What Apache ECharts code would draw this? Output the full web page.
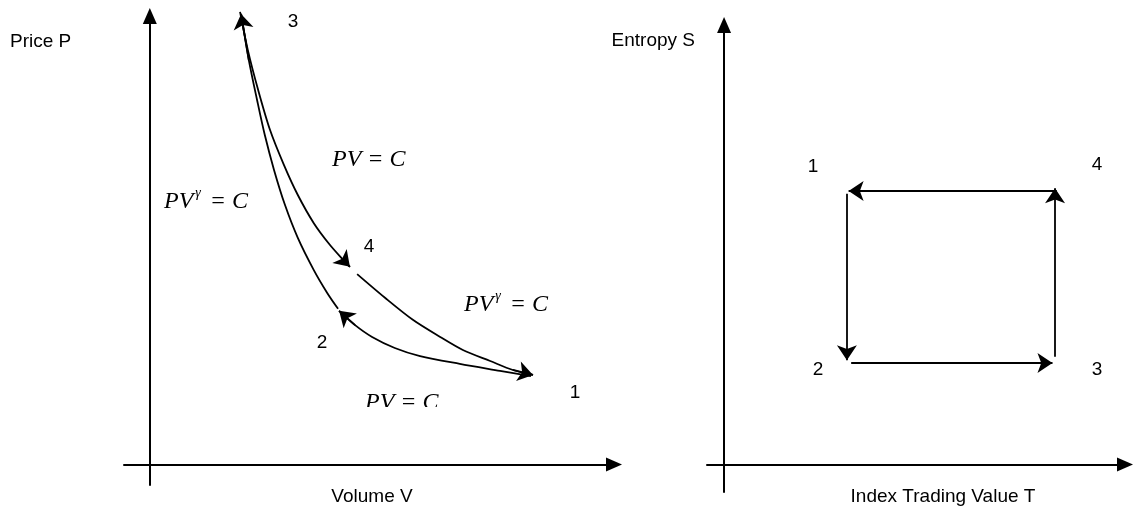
<!DOCTYPE html>
<html><head><meta charset="utf-8">
<script src="https://cdn.jsdelivr.net/npm/echarts@6/dist/echarts.min.js"></script>
<style>html,body{margin:0;padding:0;background:#fff}#c{width:1134px;height:517px}</style>
</head><body><div id="c"></div>
<script>
// ---- Left panel: Price P vs Volume V (data units) ----
const pvCurve3to4 = [[1.75,11.10],[1.90,10.17],[2.10,9.19],[2.33,8.21],[2.60,7.35],[2.87,6.61],[3.18,5.92],[3.49,5.39],[3.75,5.02],[3.88,4.85]];
const pvCurve4to1 = [[4.02,4.67],[4.56,4.09],[5.10,3.55],[5.63,3.13],[6.07,2.81],[6.60,2.54],[7.04,2.32],[7.43,2.20]];
const pvCurve1to2 = [[7.39,2.17],[6.79,2.30],[6.01,2.47],[5.24,2.66],[4.75,2.86],[4.31,3.13],[3.98,3.42],[3.67,3.77]];
const pvCurve2to3 = [[3.65,3.82],[3.44,4.21],[3.18,4.77],[2.87,5.56],[2.62,6.37],[2.41,7.22],[2.23,8.08],[2.08,8.94],[1.92,9.92],[1.77,11.05]];
const pvCurves = [pvCurve3to4, pvCurve4to1, pvCurve1to2, pvCurve2to3];

// ---- Right panel: Entropy S vs Index Trading Value T (data units) ----
const tsEdge4to1 = [[7.80,4.98],[2.92,4.98]];
const tsEdge1to2 = [[2.88,4.93],[2.88,1.90]];
const tsEdge2to3 = [[2.98,1.85],[7.70,1.85]];
const tsEdge3to4 = [[7.76,1.96],[7.76,5.03]];
const tsEdges = [tsEdge4to1, tsEdge1to2, tsEdge2to3, tsEdge3to4];

// ---- Texts ----
const axisNames = { leftX: 'Volume V', leftY: 'Price P', rightX: 'Index Trading Value T', rightY: 'Entropy S' };
const pointLabels = ['1', '2', '3', '4'];

const SANS = '"Liberation Sans", Arial, sans-serif';
const SERIF = '"Liberation Serif", "Times New Roman", serif';
const INK = '#000';
const FS = 19;

const chart = echarts.init(document.getElementById('c'), null, { renderer: 'canvas' });

function axisLine() {
  return { show: true, onZero: true, symbol: ['none', 'triangle'], symbolSize: [14, 16],
           lineStyle: { color: INK, width: 2 } };
}
function baseAxis(extra) {
  return Object.assign({
    type: 'value', axisLine: axisLine(), axisTick: { show: false },
    axisLabel: { show: false }, splitLine: { show: false }
  }, extra);
}

const LW = 1.8, AS = 15;
const series = [];
pvCurves.forEach(c => {
  series.push({ type: 'line', xAxisIndex: 0, yAxisIndex: 0, data: c, smooth: 0.3,
    showSymbol: false, clip: false, silent: true,
    lineStyle: { color: INK, width: LW } });
  series.push({ type: 'lines', coordinateSystem: 'cartesian2d', xAxisIndex: 0, yAxisIndex: 0,
    clip: false, silent: true, symbol: ['none', 'arrow'], symbolSize: AS,
    lineStyle: { color: INK, width: LW, opacity: 1 },
    data: [{ coords: [c[c.length - 2], c[c.length - 1]] }] });
});
series.push({ type: 'lines', coordinateSystem: 'cartesian2d', xAxisIndex: 1, yAxisIndex: 1,
  clip: false, silent: true, symbol: ['none', 'arrow'], symbolSize: AS,
  lineStyle: { color: INK, width: LW, opacity: 1 },
  data: tsEdges.map(e => ({ coords: e })) });

function txt(t, x, y, align) {
  return { type: 'text', x: x, y: y, silent: true,
    style: { text: t, fill: INK, font: FS + 'px ' + SANS, align: align || 'center', verticalAlign: 'middle' } };
}
function formula(withGamma, x, y) {
  return { type: 'text', x: x, y: y, silent: true,
    style: {
      text: withGamma ? '{i|PV}{s|γ}{i| = C}' : '{i|PV = C}',
      align: 'left', verticalAlign: 'middle',
      rich: {
        i: { fontFamily: SERIF, fontStyle: 'italic', fontSize: 24, fill: INK, color: INK, lineHeight: 28, verticalAlign: 'bottom' },
        s: { fontFamily: SERIF, fontStyle: 'italic', fontSize: 14, fill: INK, color: INK, lineHeight: 28, verticalAlign: 'bottom', padding: [0, 3, 14, 2] }
      }
    } };
}

const option = {
  backgroundColor: '#fff',
  animation: false,
  grid: [
    { left: 124, top: 16, width: 490, height: 469, containLabel: false, outerBoundsMode: 'none' },
    { left: 707, top: 25, width: 418, height: 467, containLabel: false, outerBoundsMode: 'none' }
  ],
  xAxis: [
    baseAxis({ gridIndex: 0, min: -0.5, max: 9 }),
    baseAxis({ gridIndex: 1, min: -0.4, max: 9.4 })
  ],
  yAxis: [
    baseAxis({ gridIndex: 0, min: -0.5, max: 11 }),
    baseAxis({ gridIndex: 1, min: -0.5, max: 8 })
  ],
  series: series,
  graphic: [
    txt(axisNames.leftY, 10, 42, 'left'),
    txt(axisNames.rightY, 695, 41, 'right'),
    txt(axisNames.leftX, 372, 497),
    txt(axisNames.rightX, 943, 497),
    txt(pointLabels[2], 293, 22), txt(pointLabels[3], 369, 247), txt(pointLabels[1], 322, 343), txt(pointLabels[0], 575, 393),
    txt(pointLabels[0], 813, 167), txt(pointLabels[3], 1097, 165), txt(pointLabels[1], 818, 370), txt(pointLabels[2], 1097, 370),
    formula(false, 332, 158),
    formula(true, 164, 200),
    formula(true, 464, 303),
    formula(false, 365, 401),
    { type: 'rect', z: 100, silent: true, shape: { x: 355, y: 407, width: 100, height: 12 }, style: { fill: '#fff' } }
  ]
};
chart.setOption(option);
</script>
</body></html>
